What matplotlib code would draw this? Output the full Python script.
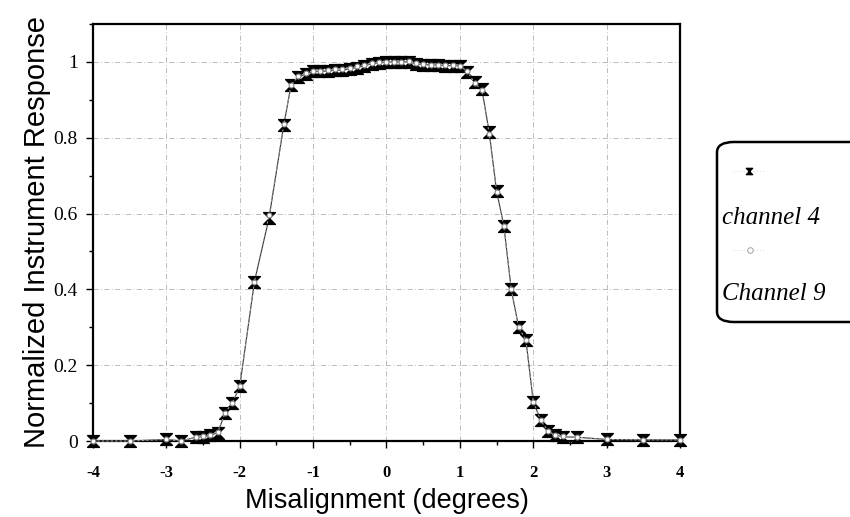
import matplotlib
matplotlib.use('Agg')
import matplotlib.pyplot as plt
from matplotlib.path import Path
from matplotlib.patches import FancyBboxPatch
from matplotlib.lines import Line2D
from matplotlib.ticker import MultipleLocator

plt.rcParams['axes.unicode_minus'] = False

# misalignment positions (degrees)
x_pos = [-4.0, -3.5, -3.0, -2.8, -2.6, -2.5, -2.4, -2.3, -2.2, -2.1, -2.0,
         -1.8, -1.6, -1.4, -1.3, -1.2, -1.1, -1.0, -0.9, -0.8, -0.7, -0.6,
         -0.5, -0.4, -0.3, -0.2, -0.1, 0.0, 0.1, 0.2, 0.3, 0.4, 0.5, 0.6,
         0.7, 0.8, 0.9, 1.0, 1.1, 1.2, 1.3, 1.4, 1.5, 1.6, 1.7, 1.8, 1.9,
         2.0, 2.1, 2.2, 2.3, 2.4, 2.6, 3.0, 3.5, 4.0]

channel4 = [0.0, 0.0, 0.004, 0.0, 0.01, 0.011, 0.015, 0.022, 0.073, 0.10, 0.144,
            0.42, 0.589, 0.833, 0.939, 0.960, 0.968, 0.975, 0.975, 0.976, 0.978, 0.978,
            0.982, 0.985, 0.990, 0.995, 0.998, 1.0, 1.0, 1.0, 1.0, 0.995, 0.993, 0.992,
            0.992, 0.990, 0.990, 0.990, 0.974, 0.946, 0.929, 0.814, 0.660, 0.567, 0.40,
            0.302, 0.267, 0.104, 0.056, 0.027, 0.016, 0.011, 0.010, 0.004, 0.003, 0.003]

channel9 = [0.0, 0.0, 0.004, 0.0, 0.01, 0.012, 0.016, 0.024, 0.075, 0.10, 0.145,
            0.42, 0.595, 0.835, 0.94, 0.962, 0.970, 0.977, 0.977, 0.978, 0.980, 0.981,
            0.984, 0.988, 0.992, 0.996, 0.999, 1.0, 1.0, 1.0, 1.003, 0.996, 0.994, 0.993,
            0.993, 0.991, 0.991, 0.990, 0.975, 0.945, 0.925, 0.81, 0.658, 0.566, 0.40,
            0.30, 0.266, 0.104, 0.055, 0.026, 0.016, 0.012, 0.010, 0.004, 0.003, 0.003]

# hourglass marker
hourglass = Path([(-1, 1), (1, 1), (-1, -1), (1, -1), (-1, 1)],
                 [Path.MOVETO, Path.LINETO, Path.LINETO, Path.LINETO, Path.CLOSEPOLY])

fig = plt.figure(figsize=(8.5, 5.17), dpi=100)
ax = fig.add_axes([0.1094, 0.147, 0.6906, 0.8066])

ax.plot(x_pos, channel4, color='#333333', lw=0.8, marker=hourglass, ms=8.5,
        mfc='black', mec='black', zorder=3, clip_on=False)
ax.plot(x_pos, channel9, color='#999999', lw=0.8, ls=(0, (2, 2)), marker='o', ms=3.5,
        mfc='white', mec='#888888', mew=0.8, zorder=4, clip_on=False)

ax.set_xlim(-4, 4)
ax.set_ylim(0, 1.1)
ax.xaxis.set_major_locator(MultipleLocator(1))
ax.xaxis.set_minor_locator(MultipleLocator(0.5))
ax.yaxis.set_minor_locator(MultipleLocator(0.1))
ax.set_yticks([0, 0.2, 0.4, 0.6, 0.8, 1.0])
ax.set_yticklabels(['0', '0.2', '0.4', '0.6', '0.8', '1'])

ax.grid(True, which='major', color='#b0b0b0', lw=0.6, ls=(0, (6, 3, 1, 3)))
for s in ax.spines.values():
    s.set_linewidth(1.6)

ax.tick_params(axis='both', which='major', direction='out', length=5, width=1)
ax.tick_params(axis='both', which='minor', direction='out', length=3, width=1)
ax.tick_params(axis='x', pad=12)
ax.tick_params(axis='y', pad=6)
for lab in ax.get_xticklabels():
    lab.set_fontfamily('Liberation Serif')
    lab.set_fontweight('bold')
    lab.set_fontsize(12)
for lab in ax.get_yticklabels():
    lab.set_fontfamily('Liberation Serif')
    lab.set_fontsize(14)

ax.set_xlabel('Misalignment (degrees)', family='Liberation Sans', fontsize=19.5, labelpad=5)
ax.set_ylabel('Normalized Instrument Response', family='Liberation Sans', fontsize=21, labelpad=2)

# legend box drawn by hand
box = FancyBboxPatch((717 / 850, 1 - 322 / 517), 160 / 850, 180 / 517,
                     boxstyle='round,pad=0,rounding_size=0.02',
                     transform=fig.transFigure, fc='white', ec='black', lw=1.8,
                     clip_on=False)
fig.add_artist(box)
fig.add_artist(Line2D([733 / 850, 765 / 850], [1 - 171 / 517] * 2, transform=fig.transFigure,
                      color='#cccccc', lw=0.6, ls=(0, (1, 3))))
fig.add_artist(Line2D([749 / 850], [1 - 171 / 517], transform=fig.transFigure,
                      marker=hourglass, ms=4.5, mfc='black', mec='black', ls='none'))
fig.text(722 / 850, 1 - 218 / 517, 'channel 4', family='Liberation Serif', style='italic',
         fontsize=18, va='center', ha='left')
fig.add_artist(Line2D([733 / 850, 765 / 850], [1 - 250 / 517] * 2, transform=fig.transFigure,
                      color='#cccccc', lw=0.6, ls=(0, (1, 3))))
fig.add_artist(Line2D([750 / 850], [1 - 250 / 517], transform=fig.transFigure,
                      marker='o', ms=4, mfc='white', mec='#aaaaaa', mew=0.8, ls='none'))
fig.text(722 / 850, 1 - 294 / 517, 'Channel 9', family='Liberation Serif', style='italic',
         fontsize=18, va='center', ha='left')

fig.savefig('out.png', dpi=100)
